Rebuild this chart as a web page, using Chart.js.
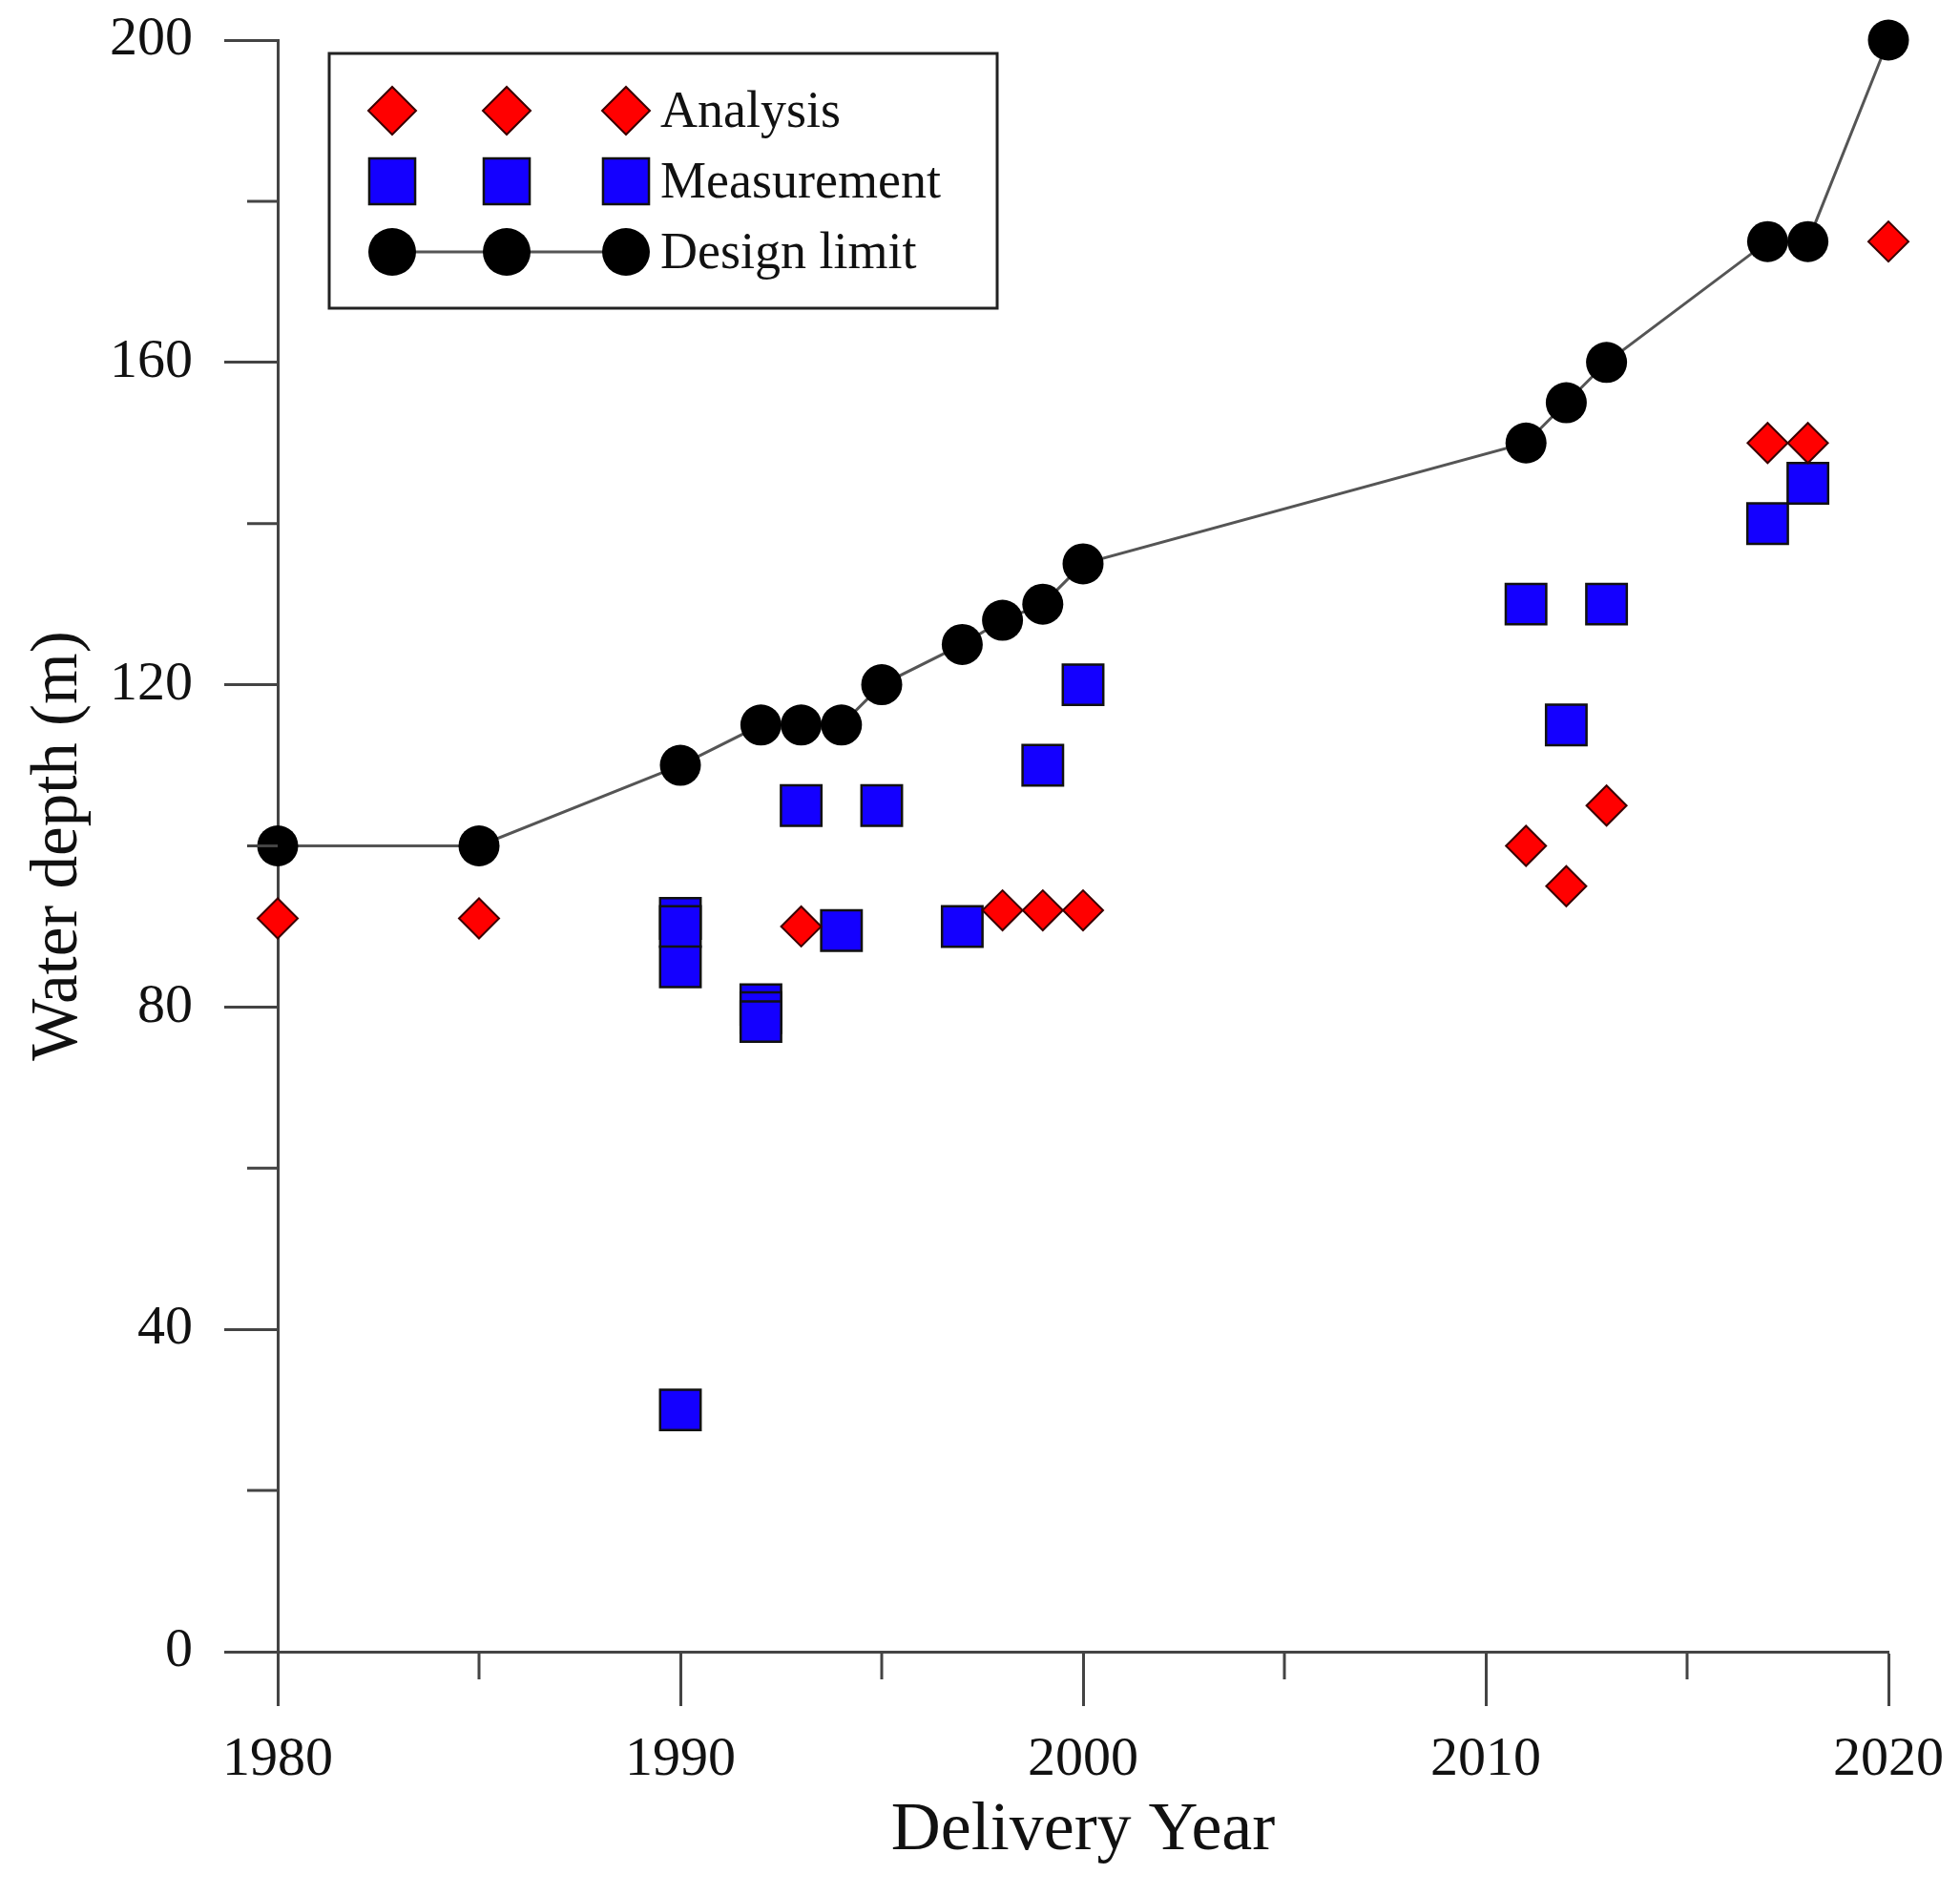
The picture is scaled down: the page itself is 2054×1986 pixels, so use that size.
<!DOCTYPE html>
<html>
<head>
<meta charset="utf-8">
<title>Water depth by delivery year</title>
<script src="https://cdn.jsdelivr.net/npm/chart.js"></script>
<style>
  html, body { margin: 0; padding: 0; background: #fff; }
  canvas { display: block; }
</style>
</head>
<body>
<canvas id="depthChart" width="2054" height="1986"></canvas>
<script>
// values
const analysisYears = [1980, 1985, 1993, 1998, 1999, 2000, 2011, 2012, 2013, 2017, 2018, 2020];
const analysisDepth = [91, 91, 90, 92, 92, 92, 100, 95, 105, 150, 150, 175];

const measureYears = [1990, 1990, 1990, 1990, 1992, 1992, 1992, 1993, 1994, 1995, 1997, 1999, 2000, 2011, 2012, 2013, 2017, 2018];
const measureDepth = [91, 90, 85, 30, 80.3, 79.3, 78.2, 105, 89.5, 105, 90, 110, 120, 130, 115, 130, 140, 145];

const designYears = [1980, 1985, 1990, 1992, 1993, 1994, 1995, 1997, 1998, 1999, 2000, 2011, 2012, 2013, 2017, 2018, 2020];
const designDepth = [100, 100, 110, 115, 115, 115, 120, 125, 128, 130, 135, 150, 155, 160, 175, 175, 200];

const seriesNames = ['Analysis', 'Measurement', 'Design limit'];
const yearTicks = [1980, 1990, 2000, 2010, 2020];
const depthTicks = [0, 40, 80, 120, 160, 200];

const toPoints = (xs, ys) => xs.map((x, i) => ({ x: x, y: ys[i] }));

const FONT = '"Liberation Serif", "Times New Roman", serif';
const AXIS = '#444';

// short ticks halfway between the labelled ones
const minorTicks = {
    id: 'minorTicks',
    afterDraw(chart) {
        const ctx = chart.ctx;
        const xs = chart.scales.x, ys = chart.scales.y;
        ctx.save();
        ctx.strokeStyle = AXIS;
        ctx.lineWidth = 3;
        ctx.beginPath();
        for (let i = 0; i < xs.ticks.length - 1; i++) {
            const px = xs.getPixelForValue((xs.ticks[i].value + xs.ticks[i + 1].value) / 2);
            ctx.moveTo(px, xs.top);
            ctx.lineTo(px, xs.top + 29);
        }
        for (let i = 0; i < ys.ticks.length - 1; i++) {
            const py = ys.getPixelForValue((ys.ticks[i].value + ys.ticks[i + 1].value) / 2);
            ctx.moveTo(ys.right, py);
            ctx.lineTo(ys.right - 32, py);
        }
        ctx.stroke();
        ctx.restore();
    }
};

// legend box with three markers per entry, as in the original figure
const legendBox = {
    id: 'legendBox',
    afterDraw(chart) {
        const ctx = chart.ctx;
        const rows = [116, 190, 264];
        const cols = [411, 531, 656];
        const sizes = [25, 34, 25];
        ctx.save();
        ctx.lineWidth = 3;
        ctx.strokeStyle = '#222';
        ctx.strokeRect(345, 56, 700, 267);

        chart.data.datasets.forEach((ds, i) => {
            const y = rows[i];
            if (ds.showLine) {
                ctx.strokeStyle = ds.borderColor;
                ctx.lineWidth = ds.borderWidth;
                ctx.beginPath();
                ctx.moveTo(cols[0], y);
                ctx.lineTo(cols[2], y);
                ctx.stroke();
            }
            cols.forEach(x => {
                ctx.fillStyle = ds.pointBackgroundColor;
                ctx.strokeStyle = ds.pointBorderColor;
                ctx.lineWidth = ds.pointBorderWidth;
                Chart.helpers.drawPoint(ctx, {
                    pointStyle: ds.pointStyle,
                    radius: sizes[i],
                    rotation: 0,
                    borderWidth: ds.pointBorderWidth
                }, x, y);
            });
            ctx.fillStyle = '#111';
            ctx.font = '54px ' + FONT;
            ctx.textBaseline = 'alphabetic';
            ctx.textAlign = 'left';
            ctx.fillText(ds.label, 692, y + 17);
        });
        ctx.restore();
    }
};

const ctx = document.getElementById('depthChart').getContext('2d');
new Chart(ctx, {
    type: 'scatter',
    data: {
        datasets: [
            {
                label: seriesNames[0],
                data: toPoints(analysisYears, analysisDepth),
                pointStyle: 'rectRot',
                pointRadius: 21,
                pointBackgroundColor: '#ff0000',
                pointBorderColor: '#3a0000',
                pointBorderWidth: 2,
                clip: false
            },
            {
                label: seriesNames[1],
                data: toPoints(measureYears, measureDepth),
                pointStyle: 'rect',
                pointRadius: 30,
                pointBackgroundColor: '#1400ff',
                pointBorderColor: '#111',
                pointBorderWidth: 2.5,
                clip: false
            },
            {
                label: seriesNames[2],
                data: toPoints(designYears, designDepth),
                showLine: true,
                borderColor: '#555',
                borderWidth: 3,
                pointStyle: 'circle',
                pointRadius: 21.5,
                pointBackgroundColor: '#000',
                pointBorderColor: '#000',
                pointBorderWidth: 0,
                clip: false
            }
        ]
    },
    options: {
        responsive: false,
        devicePixelRatio: 1,
        animation: false,
        layout: { autoPadding: false, padding: { top: 42, right: 75, left: 0, bottom: 0 } },
        plugins: {
            legend: { display: false },
            tooltip: { enabled: false }
        },
        scales: {
            x: {
                type: 'linear',
                min: yearTicks[0],
                max: yearTicks[yearTicks.length - 1],
                afterFit: s => { s.height = 255; s.paddingLeft = 0; s.paddingRight = 0; },
                afterBuildTicks: s => { s.ticks = yearTicks.map(v => ({ value: v })); },
                border: { color: AXIS, width: 3 },
                grid: { drawOnChartArea: false, drawTicks: true, tickLength: 57, tickColor: AXIS, tickWidth: 3 },
                ticks: {
                    padding: 22,
                    color: '#111',
                    maxRotation: 0,
                    font: { family: FONT, size: 58 },
                    callback: v => String(v)
                },
                title: {
                    display: true,
                    text: 'Delivery Year',
                    color: '#111',
                    font: { family: FONT, size: 72 },
                    padding: { top: 0, bottom: 24 }
                }
            },
            y: {
                type: 'linear',
                min: depthTicks[0],
                max: depthTicks[depthTicks.length - 1],
                afterFit: s => { s.width = 291; s.paddingTop = 0; s.paddingBottom = 0; },
                afterBuildTicks: s => { s.ticks = depthTicks.map(v => ({ value: v })); },
                border: { color: AXIS, width: 3 },
                grid: { drawOnChartArea: false, drawTicks: true, tickLength: 56, tickColor: AXIS, tickWidth: 3 },
                ticks: {
                    padding: 33,
                    color: '#111',
                    font: { family: FONT, size: 58 },
                    callback: v => String(v)
                },
                title: {
                    display: true,
                    text: 'Water depth (m)',
                    color: '#111',
                    font: { family: FONT, size: 69 },
                    padding: { top: 20, bottom: 0 }
                }
            }
        }
    },
    plugins: [minorTicks, legendBox]
});
</script>
</body>
</html>
